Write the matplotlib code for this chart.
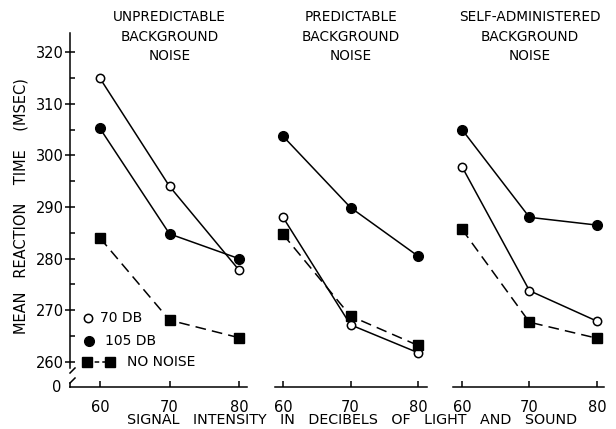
import numpy as np
import matplotlib
matplotlib.use("Agg")
import matplotlib.pyplot as plt

## Data
intensity = [60, 70, 80]
panel_titles = ["UNPREDICTABLE\nBACKGROUND\nNOISE",
                "PREDICTABLE\nBACKGROUND\nNOISE",
                "SELF-ADMINISTERED\nBACKGROUND\nNOISE"]
rt_70db = [[314.9, 294.0, 277.8],
           [288.0, 267.2, 261.8],
           [297.8, 273.8, 267.9]]
rt_105db = [[305.2, 284.8, 280.0],
            [303.7, 289.9, 280.5],
            [305.0, 288.0, 286.5]]
rt_nonoise = [[284.0, 268.1, 264.7],
              [284.7, 268.9, 263.2],
              [285.7, 267.7, 264.6]]
yticks = [260, 270, 280, 290, 300, 310, 320]
legend_labels = ["70 DB", "105 DB", "NO NOISE"]

W, H = 616, 429
fig = plt.figure(figsize=(W / 100, H / 100), dpi=100)
plt.rcParams['font.family'] = ['DejaVu Sans']

## pixel layout of the three panels (left, right, value at left, value at right)
panels = [(70, 247, 55.68, 81.15),
          (275, 427, 58.81, 81.33),
          (453, 604, 58.67, 81.04)]
top_px, bot_px = 33, 387
ylo, yhi = 255.16, 323.68
lw = 1.1

axes = []
for i, (l, r, x0, x1) in enumerate(panels):
    ax = fig.add_axes([l / W, 1 - bot_px / H, (r - l) / W, (bot_px - top_px) / H])
    axes.append(ax)
    ax.set_xlim(x0, x1)
    ax.set_ylim(ylo, yhi)
    for s in ['top', 'right']:
        ax.spines[s].set_visible(False)
    ax.spines['bottom'].set_linewidth(lw)
    ax.set_xticks(intensity)
    ax.set_xticklabels([str(v) for v in intensity])
    ax.tick_params(axis='x', direction='in', length=4, width=lw, labelsize=10.5, pad=9)

    ax.plot(intensity, rt_105db[i], color='black', lw=lw, marker='o', ms=7,
            mfc='black', mec='black', clip_on=False)
    ax.plot(intensity, rt_70db[i], color='black', lw=lw, marker='o', ms=6,
            mfc='white', mec='black', mew=1.1, clip_on=False)
    ax.plot(intensity, rt_nonoise[i], color='black', lw=lw, ls=(0, (7, 4)), marker='s', ms=7,
            mfc='black', mec='black', clip_on=False)

    ax.text(70, 0.989, panel_titles[i], transform=ax.get_xaxis_transform(),
            ha='center', va='center', fontsize=9.8, linespacing=1.5)

    if i == 0:
        ax.spines['left'].set_linewidth(lw)
        ax.spines['left'].set_bounds(258.84, yhi)
        ax.set_yticks(yticks)
        ax.set_yticklabels([str(v) for v in yticks])
        ax.set_yticks(np.arange(265, 320, 10), minor=True)
        ax.tick_params(axis='y', which='major', direction='inout', length=7, width=lw,
                       labelsize=10.5, pad=1)
        ax.tick_params(axis='y', which='minor', direction='in', length=3.5, width=lw)
        # axis break
        tr = ax.transAxes
        fx = 5 / (r - l)
        ax.plot([0, 0], [0, 0.0113], color='black', lw=lw, transform=tr, clip_on=False)
        ax.plot([0, fx], [0.0395, 0.0537], color='black', lw=lw, transform=tr, clip_on=False)
        ax.plot([0, fx], [0.0113, 0.0254], color='black', lw=lw, transform=tr, clip_on=False)
        ax.text(-0.05, 0.0, "0", transform=tr, ha='right', va='center', fontsize=10.5)
        ax.set_ylabel("MEAN   REACTION    TIME    (MSEC)", fontsize=10.5, labelpad=10)
        ax.yaxis.set_label_coords(-0.235, (387 - 206) / 354)

        # hand drawn key, as in the original
        ax.plot([0.10], [0.196], transform=tr, marker='o', ms=6, mfc='white', mec='black',
                mew=1.1, ls='none', clip_on=False)
        ax.plot([0.11], [0.131], transform=tr, marker='o', ms=7, mfc='black', mec='black',
                ls='none', clip_on=False)
        ax.plot([0.095, 0.225], [0.072, 0.072], transform=tr, color='black', lw=lw,
                ls=(0, (3, 2)), marker='s', ms=7, mfc='black', clip_on=False)
        ax.text(0.17, 0.196, legend_labels[0], transform=tr, va='center', fontsize=10)
        ax.text(0.20, 0.131, legend_labels[1], transform=tr, va='center', fontsize=10)
        ax.text(0.32, 0.072, legend_labels[2], transform=tr, va='center', fontsize=10)
    else:
        ax.spines['left'].set_visible(False)
        ax.set_yticks([])

fig.text(352 / W, 1 - 420 / H, "SIGNAL   INTENSITY   IN   DECIBELS   OF   LIGHT   AND   SOUND",
         ha='center', va='center', fontsize=10.3)

fig.savefig("out.png", dpi=100)
